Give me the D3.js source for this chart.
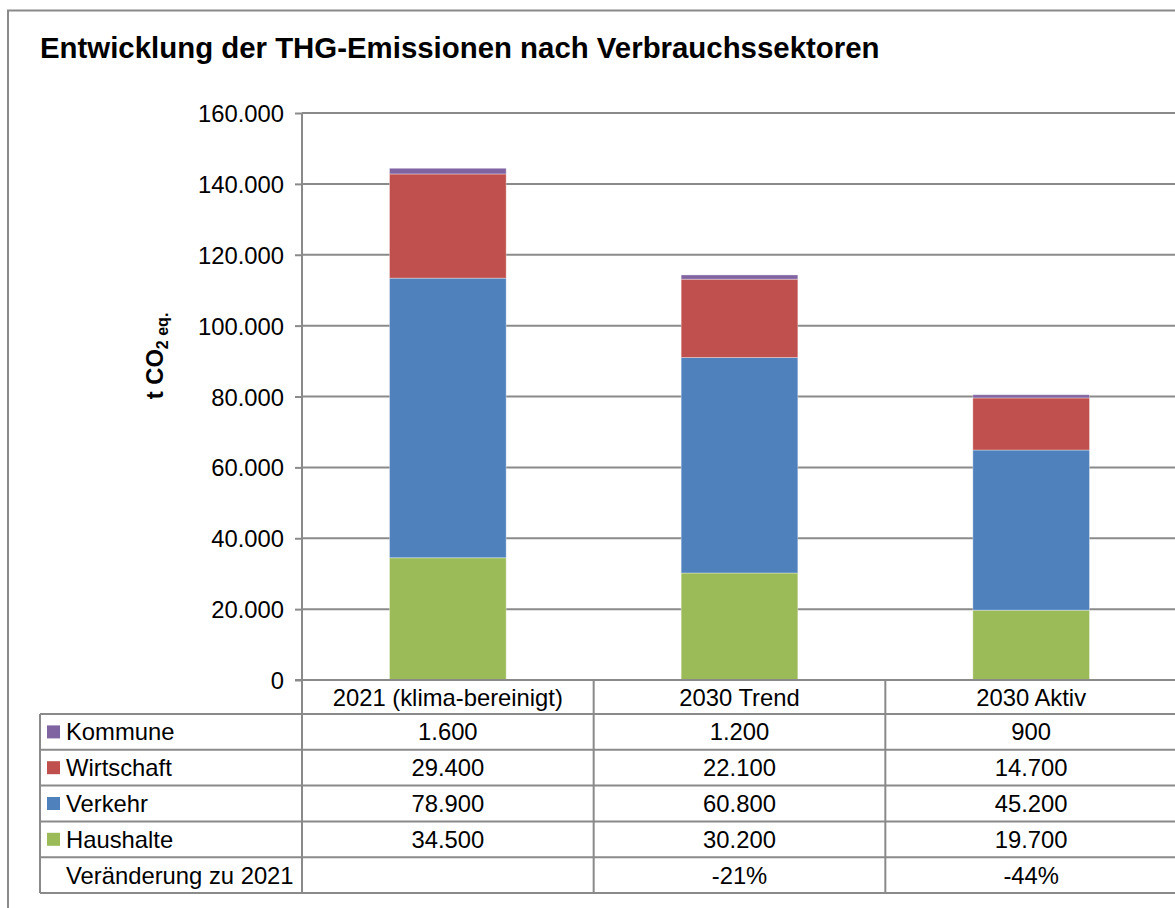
<!DOCTYPE html>
<html>
<head>
<meta charset="utf-8">
<script src="https://cdn.jsdelivr.net/npm/d3@7"></script>
<style>
  html, body { margin: 0; padding: 0; background: #fff; }
  svg { display: block; font-family: "Liberation Sans", Arial, sans-serif; }
</style>
</head>
<body>
<svg id="chart" width="1175" height="908"></svg>
<script>
// Scenario columns
const categories = ["2021 (klima-bereinigt)", "2030 Trend", "2030 Aktiv"];

// Emissions per consumption sector, t CO2 eq.
const haushalte  = [34500, 30200, 19700];
const verkehr    = [78900, 60800, 45200];
const wirtschaft = [29400, 22100, 14700];
const kommune    = [1600, 1200, 900];

// Axis ticks
const yTicks = [0, 20000, 40000, 60000, 80000, 100000, 120000, 140000, 160000];

// Sector names, stacking order bottom to top
const sectorNames  = ["Haushalte", "Verkehr", "Wirtschaft", "Kommune"];
const sectorColors = ["#9BBB59", "#4F81BD", "#C0504D", "#8064A2"];
const sectorValues = [haushalte, verkehr, wirtschaft, kommune];

const de = d3.formatLocale({ decimal: ",", thousands: ".", grouping: [3], currency: ["", " €"] });
const fmt = de.format(",");

const svg = d3.select("#chart");
const W = 1175, H = 908;
const lineColor = "#8a8a8a";
const fontSize = 23.8;

// Outer chart frame (runs past the right and bottom edges)
svg.append("rect")
  .attr("x", 8).attr("y", 10.5)
  .attr("width", W + 20).attr("height", H + 20)
  .attr("fill", "none").attr("stroke", lineColor).attr("stroke-width", 2);

// Title
svg.append("text")
  .attr("x", 40).attr("y", 58)
  .attr("font-size", 29.4).attr("font-weight", "bold").attr("fill", "#000")
  .text("Entwicklung der THG-Emissionen nach Verbrauchssektoren");

// Scales
const plotLeft = 302, plotRight = 1177, plotTop = 113, plotBottom = 680;
const x = d3.scaleBand().domain(categories).range([plotLeft, plotRight]).paddingInner(0).paddingOuter(0);
const y = d3.scaleLinear().domain([0, 160000]).range([plotBottom, plotTop]);

// Gridlines
svg.append("g").selectAll("line")
  .data(yTicks.filter(d => d > 0))
  .join("line")
  .attr("x1", plotLeft).attr("x2", W)
  .attr("y1", d => y(d)).attr("y2", d => y(d))
  .attr("stroke", lineColor).attr("stroke-width", 2);

// Y axis with tick labels
const yAxis = d3.axisLeft(y).tickValues(yTicks).tickSize(7).tickPadding(11)
  .tickFormat(d => fmt(d));
const gy = svg.append("g").attr("transform", `translate(${plotLeft},0)`).call(yAxis);
gy.select(".domain").remove();
gy.selectAll(".tick line").attr("stroke", lineColor).attr("stroke-width", 2);
gy.selectAll(".tick text")
  .attr("font-size", fontSize).attr("font-family", "Liberation Sans, Arial, sans-serif")
  .attr("fill", "#000").attr("dy", "0.36em");

// Y axis title
const yt = svg.append("text")
  .attr("transform", "translate(163,356) rotate(-90)")
  .attr("text-anchor", "middle").attr("font-weight", "bold")
  .attr("font-size", fontSize).attr("fill", "#000");
yt.append("tspan").text("t CO");
yt.append("tspan").attr("font-size", 16).attr("dy", 5).text("2");
yt.append("tspan").attr("font-size", 16).text(" eq.");

// Stacked bars
const rows = categories.map((c, i) => {
  const r = { cat: c };
  sectorNames.forEach((s, k) => { r[s] = sectorValues[k][i]; });
  return r;
});
const series = d3.stack().keys(sectorNames)(rows);
const barW = x.bandwidth() * 0.4;
svg.append("g").selectAll("g")
  .data(series)
  .join("g")
  .attr("fill", (d, i) => sectorColors[i])
  .selectAll("rect")
  .data(d => d)
  .join("rect")
  .attr("x", d => x(d.data.cat) + (x.bandwidth() - barW) / 2)
  .attr("width", barW)
  .attr("y", d => y(d[1]))
  .attr("height", d => y(d[0]) - y(d[1]))
  .attr("stroke", "rgba(255,255,255,0.35)").attr("stroke-width", 1);

// Data table beneath the plot
const tableLeft = 40;
const headerBottom = 714;
const rowH = 35.8;
const tableRows = [
  { name: "Kommune", color: sectorColors[3], vals: kommune.map(fmt) },
  { name: "Wirtschaft", color: sectorColors[2], vals: wirtschaft.map(fmt) },
  { name: "Verkehr", color: sectorColors[1], vals: verkehr.map(fmt) },
  { name: "Haushalte", color: sectorColors[0], vals: haushalte.map(fmt) }
];
const totals = categories.map((c, i) => d3.sum(sectorValues, v => v[i]));
const pct = d3.format(".0%");
tableRows.push({
  name: "Veränderung zu 2021", color: null,
  vals: totals.map((t, i) => i === 0 ? "" : pct(t / totals[0] - 1).replace("−", "-"))
});
const tableBottom = headerBottom + rowH * tableRows.length;

const tg = svg.append("g");
// axis baseline / header top
tg.append("line")
  .attr("x1", plotLeft).attr("x2", W).attr("y1", plotBottom).attr("y2", plotBottom)
  .attr("stroke", lineColor).attr("stroke-width", 2);
tg.append("line")
  .attr("x1", plotLeft - 7).attr("x2", plotLeft).attr("y1", plotBottom).attr("y2", plotBottom)
  .attr("stroke", lineColor).attr("stroke-width", 2);
// horizontal rules
d3.range(tableRows.length + 1).forEach(i => {
  tg.append("line")
    .attr("x1", tableLeft).attr("x2", W)
    .attr("y1", headerBottom + i * rowH).attr("y2", headerBottom + i * rowH)
    .attr("stroke", lineColor).attr("stroke-width", 2);
});
// vertical rules
tg.append("line")
  .attr("x1", tableLeft).attr("x2", tableLeft)
  .attr("y1", headerBottom).attr("y2", tableBottom)
  .attr("stroke", lineColor).attr("stroke-width", 2);
[plotLeft].concat(categories.slice(1).map(c => x(c))).forEach(xx => {
  tg.append("line")
    .attr("x1", xx).attr("x2", xx)
    .attr("y1", xx === plotLeft ? plotTop : plotBottom).attr("y2", tableBottom)
    .attr("stroke", lineColor).attr("stroke-width", 2);
});

// header labels
tg.selectAll("text.hdr")
  .data(categories)
  .join("text")
  .attr("class", "hdr")
  .attr("x", d => x(d) + x.bandwidth() / 2)
  .attr("y", (plotBottom + headerBottom) / 2)
  .attr("dy", "0.36em")
  .attr("text-anchor", "middle").attr("font-size", fontSize).attr("fill", "#000")
  .text(d => d);

// body rows
tableRows.forEach((r, i) => {
  const cy = headerBottom + i * rowH + rowH / 2;
  if (r.color) {
    tg.append("rect")
      .attr("x", 47).attr("y", cy - 6.5).attr("width", 13).attr("height", 13)
      .attr("fill", r.color);
  }
  tg.append("text")
    .attr("x", 66).attr("y", cy).attr("dy", "0.36em")
    .attr("font-size", fontSize).attr("fill", "#000")
    .text(r.name);
  r.vals.forEach((v, j) => {
    tg.append("text")
      .attr("x", x(categories[j]) + x.bandwidth() / 2)
      .attr("y", cy).attr("dy", "0.36em")
      .attr("text-anchor", "middle").attr("font-size", fontSize).attr("fill", "#000")
      .text(v);
  });
});
</script>
</body>
</html>
